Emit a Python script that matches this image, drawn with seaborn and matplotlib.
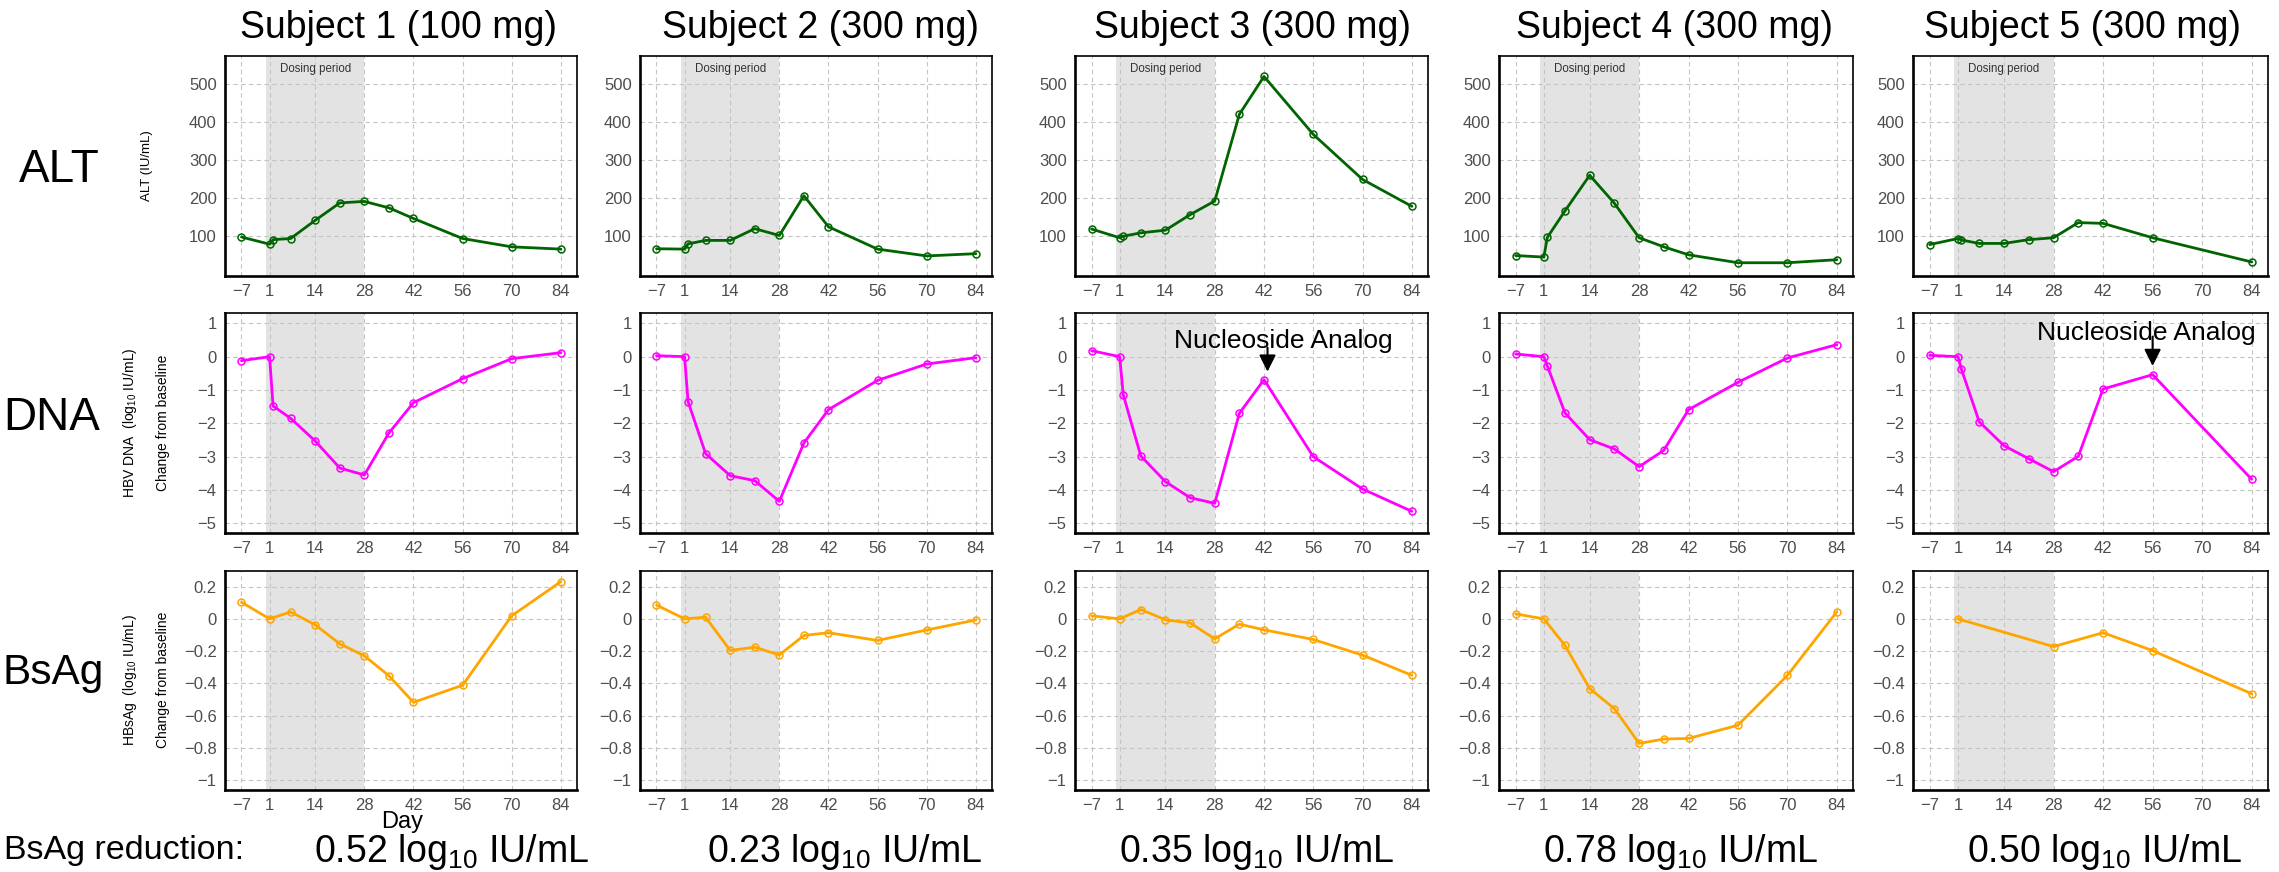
import pandas as pd
import matplotlib.pyplot as plt
import seaborn as sns

# ---- data ----
subjects = ['Subject 1 (100 mg)', 'Subject 2 (300 mg)', 'Subject 3 (300 mg)',
            'Subject 4 (300 mg)', 'Subject 5 (300 mg)']
reductions = ['0.52', '0.23', '0.35', '0.78', '0.50']

alt_days = [
    [-7, 1, 2, 7, 14, 21, 28, 35, 42, 56, 70, 84],
    [-7, 1, 2, 7, 14, 21, 28, 35, 42, 56, 70, 84],
    [-7, 1, 2, 7, 14, 21, 28, 35, 42, 56, 70, 84],
    [-7, 1, 2, 7, 14, 21, 28, 35, 42, 56, 70, 84],
    [-7, 1, 2, 7, 14, 21, 28, 35, 42, 56, 84],
]
alt_vals = [
    [97, 78, 90, 93, 141, 187, 191, 174, 146, 93, 71, 65],
    [66, 65, 79, 88, 88, 119, 101, 206, 124, 65, 47, 53],
    [118, 95, 99, 108, 115, 156, 192, 421, 521, 368, 249, 178],
    [48, 44, 96, 166, 260, 186, 95, 71, 50, 29, 29, 37],
    [77, 93, 89, 80, 80, 90, 95, 135, 133, 95, 31],
]

dna_days = [
    [-7, 1, 2, 7, 14, 21, 28, 35, 42, 56, 70, 84],
    [-7, 1, 2, 7, 14, 21, 28, 35, 42, 56, 70, 84],
    [-7, 1, 2, 7, 14, 21, 28, 35, 42, 56, 70, 84],
    [-7, 1, 2, 7, 14, 21, 28, 35, 42, 56, 70, 84],
    [-7, 1, 2, 7, 14, 21, 28, 35, 42, 56, 84],
]
dna_vals = [
    [-0.12, 0, -1.48, -1.85, -2.53, -3.34, -3.55, -2.29, -1.38, -0.66, -0.06, 0.12],
    [0.03, 0, -1.35, -2.91, -3.57, -3.72, -4.34, -2.59, -1.59, -0.71, -0.22, -0.03],
    [0.18, 0, -1.14, -2.98, -3.75, -4.23, -4.40, -1.70, -0.69, -3.00, -3.97, -4.64],
    [0.08, 0, -0.28, -1.69, -2.49, -2.77, -3.30, -2.81, -1.59, -0.77, -0.04, 0.36],
    [0.04, 0, -0.38, -1.95, -2.67, -3.06, -3.45, -2.99, -0.97, -0.54, -3.68],
]

hbsag_days = [
    [-7, 1, 7, 14, 21, 28, 35, 42, 56, 70, 84],
    [-7, 1, 7, 14, 21, 28, 35, 42, 56, 70, 84],
    [-7, 1, 7, 14, 21, 28, 35, 42, 56, 70, 84],
    [-7, 1, 7, 14, 21, 28, 35, 42, 56, 70, 84],
    [1, 28, 42, 56, 84],
]
hbsag_vals = [
    [0.103, 0, 0.043, -0.037, -0.155, -0.229, -0.353, -0.518, -0.412, 0.019, 0.231],
    [0.086, 0, 0.010, -0.196, -0.176, -0.224, -0.103, -0.086, -0.134, -0.069, -0.007],
    [0.019, 0, 0.058, -0.006, -0.025, -0.124, -0.033, -0.068, -0.128, -0.225, -0.350],
    [0.031, 0, -0.165, -0.433, -0.557, -0.773, -0.746, -0.742, -0.660, -0.351, 0.043],
    [0, -0.172, -0.086, -0.197, -0.465],
]

x_ticks = [-7, 1, 14, 28, 42, 56, 70, 84]
x_labels = ['\u22127', '1', '14', '28', '42', '56', '70', '84']
alt_ticks = [100, 200, 300, 400, 500]
alt_labels = ['100', '200', '300', '400', '500']
dna_ticks = [1, 0, -1, -2, -3, -4, -5]
dna_labels = ['1', '0', '\u22121', '\u22122', '\u22123', '\u22124', '\u22125']
hbsag_ticks = [0.2, 0, -0.2, -0.4, -0.6, -0.8, -1]
hbsag_labels = ['0.2', '0', '\u22120.2', '\u22120.4', '\u22120.6', '\u22120.8', '\u22121']

# ---- style ----
sns.set_style('white')
plt.rcParams['font.family'] = ['Liberation Sans', 'DejaVu Sans']
plt.rcParams['text.color'] = 'black'
plt.rcParams['mathtext.fontset'] = 'custom'
plt.rcParams['mathtext.rm'] = 'Liberation Sans'
plt.rcParams['mathtext.it'] = 'Liberation Sans:italic'

W, H = 2279, 872
fig = plt.figure(figsize=(W / 100, H / 100), dpi=100)

cols = [(225, 577), (640, 992), (1075, 1428), (1499, 1853), (1913, 2268)]
rows = [(56, 276), (313, 533), (571, 790)]
title_x = [399, 820, 1253, 1675, 2083]
red_x = [452, 845, 1257, 1681, 2105]

row_specs = [
    (alt_days, alt_vals, '#006400', (-6, 575), alt_ticks, alt_labels),
    (dna_days, dna_vals, '#FF00FF', (-5.29, 1.31), dna_ticks, dna_labels),
    (hbsag_days, hbsag_vals, '#FFA500', (-1.062, 0.297), hbsag_ticks, hbsag_labels),
]

LOG10 = r'log$_{\mathregular{10}}$'

for c, (l, r) in enumerate(cols):
    for k, (t, b) in enumerate(rows):
        days, vals, color, ylim, yt, yl = row_specs[k]
        ax = fig.add_axes([l / W, 1 - b / H, (r - l) / W, (b - t) / H])
        ax.axvspan(0, 28, color='#e3e3e3', lw=0, zorder=0)
        df = pd.DataFrame({'Day': days[c], 'Value': vals[c]})
        sns.lineplot(data=df, x='Day', y='Value', ax=ax, color=color, lw=2,
                     marker='o', markersize=5, markerfacecolor='none',
                     markeredgecolor=color, markeredgewidth=1.1, zorder=3)
        ax.set_xlim(-11.7, 88.6)
        ax.set_ylim(*ylim)
        ax.set_xticks(x_ticks)
        ax.set_xticklabels(x_labels)
        ax.set_yticks(yt)
        ax.set_yticklabels(yl)
        ax.set_xlabel('')
        ax.set_ylabel('')
        ax.set_axisbelow(True)
        ax.grid(True, color='#c4c4c4', ls=(0, (4, 3)), lw=0.8)
        for side, sp in ax.spines.items():
            sp.set_visible(True)
            sp.set_color('black')
            sp.set_linewidth(1.9 if side in ('left', 'bottom') else 1.2)
        ax.tick_params(direction='out', length=4, width=1, colors='#333333',
                       labelcolor='#4d4d4d', labelsize=12, pad=2)
        if k == 0:
            ax.text(14, 540, 'Dosing period', ha='center', va='center',
                    fontsize=8.3, color='#333333')
        if k == 1 and c == 2:
            ax.text(47.4, 0.47, 'Nucleoside Analog', ha='center', va='center', fontsize=19)
            ax.annotate('', xy=(43, -0.45), xytext=(43, 0.27),
                        arrowprops=dict(arrowstyle='-|>', color='black', lw=1.5,
                                        mutation_scale=25, shrinkA=0, shrinkB=0))
        if k == 1 and c == 4:
            ax.text(54.3, 0.72, 'Nucleoside Analog', ha='center', va='center', fontsize=19)
            ax.annotate('', xy=(56, -0.28), xytext=(56, 0.6),
                        arrowprops=dict(arrowstyle='-|>', color='black', lw=1.5,
                                        mutation_scale=25, shrinkA=0, shrinkB=0))

    fig.text(title_x[c] / W, 1 - 28 / H, subjects[c], ha='center', va='center',
             fontsize=27)
    fig.text(red_x[c] / W, 1 - 852 / H, reductions[c] + ' ' + LOG10 + ' IU/mL',
             ha='center', va='center', fontsize=27)

# row labels, as far as they are visible in the (cropped) original
fig.text(100 / W, 1 - 170 / H, 'ALT', ha='right', va='center', fontsize=33)
fig.text(100 / W, 1 - 418 / H, 'DNA', ha='right', va='center', fontsize=33)
fig.text(2 / W, 1 - 673 / H, 'BsAg', ha='left', va='center', fontsize=30.5)
fig.text(4 / W, 1 - 850 / H, 'BsAg reduction:', ha='left', va='center', fontsize=24.5)

# y-axis titles of the first column
fig.text(147 / W, 1 - 166 / H, 'ALT (IU/mL)', rotation=90, ha='center', va='center',
         fontsize=9.5)
fig.text(130 / W, 1 - 423 / H, 'HBV DNA  (' + LOG10 + ' IU/mL)', rotation=90,
         ha='center', va='center', fontsize=10)
fig.text(163 / W, 1 - 423 / H, 'Change from baseline', rotation=90, ha='center',
         va='center', fontsize=10)
fig.text(130 / W, 1 - 680 / H, 'HBsAg  (' + LOG10 + ' IU/mL)', rotation=90,
         ha='center', va='center', fontsize=10)
fig.text(163 / W, 1 - 680 / H, 'Change from baseline', rotation=90, ha='center',
         va='center', fontsize=10)
fig.text(402 / W, 1 - 822 / H, 'Day', ha='center', va='center', fontsize=17)

fig.savefig('out.png', dpi=100)
